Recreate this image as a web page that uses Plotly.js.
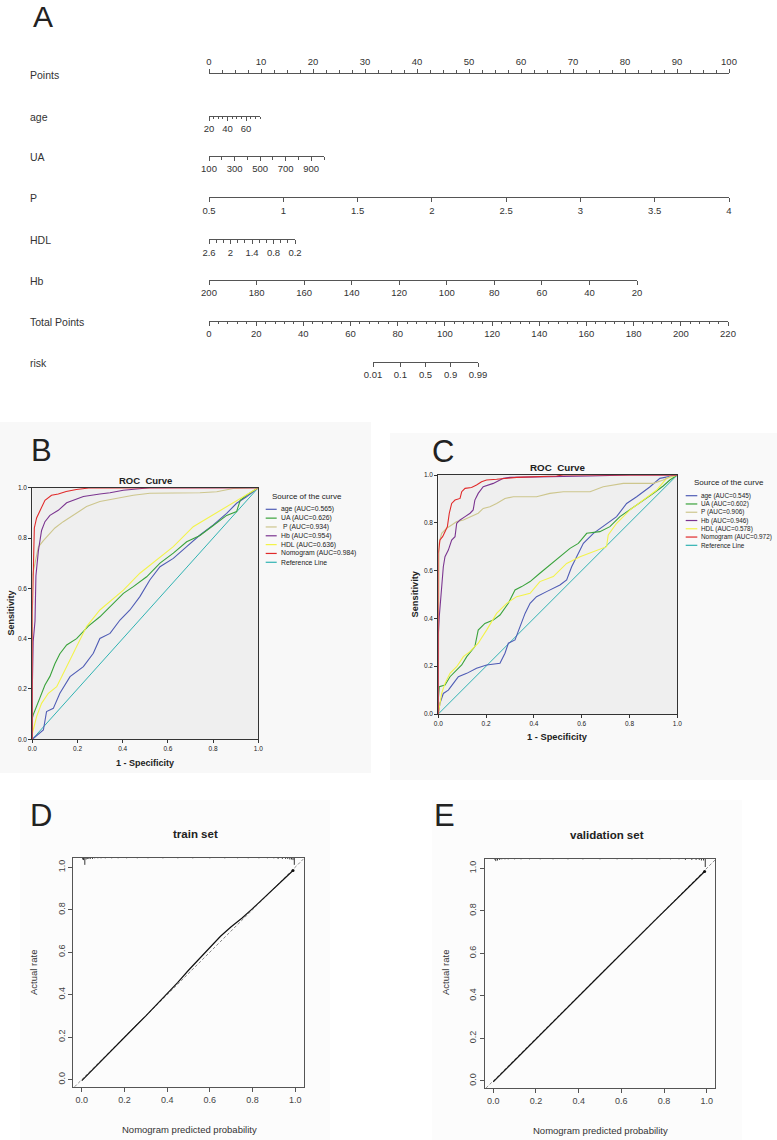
<!DOCTYPE html>
<html>
<head>
<meta charset="utf-8">
<script src="https://cdn.plot.ly/plotly-3.0.1.min.js"></script>
<style>
  html, body { margin: 0; padding: 0; background: #ffffff; }
  #fig { width: 777px; height: 1140px; }
</style>
</head>
<body>
<div id="fig"></div>
<script>
// ---------- Nomogram scales (A) ----------
const pointsRange = [0, 100];
const pointsTicks = [0, 10, 20, 30, 40, 50, 60, 70, 80, 90, 100];
const ageRange = [20, 75];
const ageTicks = [20, 40, 60];
const uaRange = [100, 1000];
const uaTicks = [100, 300, 500, 700, 900];
const pRange = [0.5, 4];
const pTicks = [0.5, 1, 1.5, 2, 2.5, 3, 3.5, 4];
const hdlRange = [2.6, 0.2];
const hdlTicks = [2.6, 2, 1.4, 0.8, 0.2];
const hbRange = [200, 20];
const hbTicks = [200, 180, 160, 140, 120, 100, 80, 60, 40, 20];
const totalRange = [0, 220];
const totalTicks = [0, 20, 40, 60, 80, 100, 120, 140, 160, 180, 200, 220];
const riskTicks = [0.01, 0.1, 0.5, 0.9, 0.99];

// ---------- ROC curves, training set (B) ----------
const curveNames = ['age', 'UA', 'P', 'Hb', 'HDL', 'Nomogram'];
const aucB = [0.565, 0.626, 0.934, 0.954, 0.636, 0.984];
const aucC = [0.545, 0.602, 0.906, 0.946, 0.578, 0.972];

const bAgeX = [0, 0.049, 0.063, 0.093, 0.122, 0.167, 0.226, 0.270, 0.299, 0.344, 0.388, 0.432, 0.476, 0.52, 0.565, 0.624, 0.683, 0.742, 0.801, 0.86, 0.904, 0.948, 1];
const bAgeY = [0, 0.037, 0.110, 0.123, 0.183, 0.249, 0.289, 0.342, 0.401, 0.421, 0.474, 0.514, 0.567, 0.633, 0.686, 0.719, 0.766, 0.812, 0.852, 0.898, 0.938, 0.964, 1];
const bUaX = [0, 0, 0.004, 0.019, 0.034, 0.056, 0.078, 0.1, 0.122, 0.152, 0.196, 0.248, 0.299, 0.358, 0.403, 0.447, 0.506, 0.565, 0.624, 0.683, 0.742, 0.801, 0.86, 0.904, 0.92, 0.948, 1];
const bUaY = [0, 0.083, 0.097, 0.13, 0.17, 0.216, 0.25, 0.30, 0.34, 0.375, 0.40, 0.45, 0.487, 0.54, 0.58, 0.607, 0.646, 0.70, 0.74, 0.785, 0.81, 0.85, 0.89, 0.905, 0.95, 0.97, 1];
const bPX = [0, 0, 0.012, 0.027, 0.049, 0.071, 0.1, 0.137, 0.181, 0.24, 0.299, 0.373, 0.447, 0.52, 0.742, 0.816, 0.889, 1];
const bPY = [0, 0.65, 0.70, 0.765, 0.79, 0.81, 0.84, 0.865, 0.89, 0.925, 0.945, 0.958, 0.97, 0.978, 0.98, 0.984, 0.997, 1];
const bHbX = [0, 0, 0.004, 0.012, 0.016, 0.027, 0.041, 0.056, 0.078, 0.115, 0.152, 0.181, 0.226, 0.299, 0.344, 0.403, 0.477, 0.52, 1];
const bHbY = [0, 0.2, 0.39, 0.47, 0.65, 0.75, 0.83, 0.865, 0.89, 0.91, 0.94, 0.95, 0.965, 0.975, 0.98, 0.99, 0.995, 1, 1];
const bHdlX = [0, 0, 0.004, 0.019, 0.041, 0.071, 0.108, 0.152, 0.196, 0.240, 0.299, 0.358, 0.403, 0.476, 0.55, 0.624, 0.712, 0.786, 0.86, 0.934, 1];
const bHdlY = [0, 0.02, 0.037, 0.09, 0.143, 0.183, 0.209, 0.289, 0.368, 0.448, 0.514, 0.56, 0.593, 0.66, 0.713, 0.766, 0.845, 0.885, 0.925, 0.964, 1];
const bNomoX = [0, 0, 0.005, 0.009, 0.019, 0.034, 0.056, 0.085, 0.115, 0.15, 0.195, 0.25, 0.45, 1];
const bNomoY = [0, 0.5, 0.69, 0.84, 0.88, 0.91, 0.95, 0.97, 0.975, 0.985, 0.993, 0.999, 1, 1];

// ---------- ROC curves, validation set (C) ----------
const cAgeX = [0, 0.007, 0.021, 0.042, 0.063, 0.084, 0.119, 0.16, 0.202, 0.258, 0.279, 0.293, 0.321, 0.342, 0.363, 0.384, 0.411, 0.453, 0.509, 0.537, 0.558, 0.579, 0.607, 0.649, 0.69, 0.746, 0.788, 0.83, 0.886, 0.927, 1];
const cAgeY = [0, 0.045, 0.086, 0.1, 0.128, 0.156, 0.17, 0.191, 0.205, 0.212, 0.254, 0.296, 0.31, 0.365, 0.421, 0.463, 0.491, 0.512, 0.54, 0.561, 0.616, 0.658, 0.714, 0.756, 0.784, 0.826, 0.881, 0.909, 0.951, 0.986, 1];
const cUaX = [0, 0, 0.004, 0.028, 0.049, 0.077, 0.098, 0.119, 0.153, 0.167, 0.195, 0.230, 0.258, 0.293, 0.321, 0.349, 0.384, 0.425, 0.467, 0.509, 0.551, 0.586, 0.621, 0.676, 0.718, 0.76, 0.802, 0.858, 0.9, 0.941, 0.969, 1];
const cUaY = [0, 0.06, 0.114, 0.121, 0.156, 0.184, 0.205, 0.24, 0.282, 0.351, 0.379, 0.393, 0.414, 0.463, 0.519, 0.533, 0.554, 0.589, 0.623, 0.658, 0.693, 0.714, 0.756, 0.763, 0.784, 0.826, 0.854, 0.895, 0.923, 0.954, 0.979, 1];
const cPX = [0, 0, 0.003, 0.014, 0.035, 0.056, 0.077, 0.105, 0.133, 0.167, 0.188, 0.216, 0.244, 0.279, 0.314, 0.411, 0.467, 0.523, 0.635, 0.69, 0.774, 0.9, 0.941, 0.969, 1];
const cPY = [0, 0.589, 0.714, 0.756, 0.777, 0.791, 0.805, 0.812, 0.826, 0.84, 0.86, 0.867, 0.881, 0.902, 0.909, 0.909, 0.923, 0.93, 0.93, 0.951, 0.965, 0.965, 0.979, 0.993, 1];
const cHbX = [0, 0, 0.004, 0.01, 0.015, 0.021, 0.028, 0.042, 0.056, 0.07, 0.077, 0.091, 0.112, 0.133, 0.146, 0.153, 0.167, 0.188, 0.23, 0.272, 0.3, 0.411, 0.634, 0.802, 1];
const cHbY = [0, 0.33, 0.407, 0.477, 0.533, 0.616, 0.658, 0.686, 0.728, 0.742, 0.798, 0.812, 0.826, 0.84, 0.854, 0.895, 0.923, 0.951, 0.965, 0.986, 0.99, 0.993, 0.996, 1, 1];
const cHdlX = [0, 0.01, 0.014, 0.028, 0.049, 0.077, 0.105, 0.132, 0.167, 0.202, 0.244, 0.286, 0.328, 0.384, 0.425, 0.481, 0.537, 0.593, 0.662, 0.704, 0.711, 0.746, 0.802, 0.858, 0.914, 0.955, 1];
const cHdlY = [0, 0.05, 0.086, 0.128, 0.17, 0.198, 0.24, 0.261, 0.296, 0.351, 0.421, 0.463, 0.491, 0.505, 0.554, 0.575, 0.63, 0.658, 0.686, 0.7, 0.749, 0.798, 0.854, 0.895, 0.937, 0.986, 1];
const cNomoX = [0, 0, 0.007, 0.018, 0.028, 0.038, 0.046, 0.056, 0.07, 0.091, 0.098, 0.112, 0.139, 0.16, 0.181, 0.202, 0.244, 0.328, 0.495, 0.523, 1];
const cNomoY = [0, 0.672, 0.728, 0.742, 0.763, 0.784, 0.84, 0.881, 0.895, 0.902, 0.93, 0.944, 0.948, 0.958, 0.972, 0.979, 0.982, 0.99, 0.996, 1, 1];

// ---------- Calibration curves (D, E) ----------
const calDX = [0.0, 0.05, 0.1, 0.15, 0.2, 0.25, 0.3, 0.35, 0.4, 0.45, 0.5, 0.55, 0.6, 0.65, 0.7, 0.75, 0.8, 0.85, 0.9, 0.95, 0.99];
const calDY = [-0.005, 0.045, 0.098, 0.148, 0.198, 0.25, 0.3, 0.352, 0.405, 0.458, 0.515, 0.57, 0.625, 0.675, 0.72, 0.76, 0.805, 0.852, 0.9, 0.945, 0.985];
const calEX = [0.0, 0.25, 0.5, 0.75, 0.99];
const calEY = [-0.005, 0.248, 0.498, 0.748, 0.985];
// distribution of predicted probabilities (rug at the top of each panel)
const rugDX = [0.004, 0.008, 0.014, 0.02, 0.026, 0.033, 0.04, 0.05, 0.06, 0.075, 0.09, 0.11, 0.14, 0.17, 0.21, 0.26, 0.31, 0.38, 0.45, 0.52, 0.6, 0.67, 0.73, 0.78, 0.83, 0.87, 0.9, 0.92, 0.94, 0.955, 0.965, 0.975, 0.983, 0.99, 0.996];
const rugDN = [3, 4, 12, 3, 2, 2, 2, 2, 1, 1, 1, 1, 1, 1, 1, 1, 1, 1, 1, 1, 1, 1, 1, 1, 1, 1, 1, 2, 2, 2, 2, 3, 3, 4, 12];
const rugEX = [0.008, 0.012, 0.02, 0.03, 0.04, 0.055, 0.07, 0.1, 0.13, 0.17, 0.22, 0.28, 0.35, 0.42, 0.5, 0.58, 0.65, 0.72, 0.78, 0.83, 0.87, 0.9, 0.93, 0.95, 0.965, 0.975, 0.985, 0.993];
const rugEN = [2, 4, 3, 2, 1, 1, 1, 1, 1, 1, 1, 1, 1, 1, 1, 1, 1, 1, 1, 1, 1, 2, 2, 2, 2, 3, 3, 14];

// ---------- helpers ----------
const W = 777, H = 1140;
const fx = p => p / W;
const fy = p => 1 - p / H;
const NARROW = '"Liberation Sans Narrow", "Arial Narrow", "Liberation Sans", Arial, sans-serif';
const SANS = '"Liberation Sans", Arial, Helvetica, sans-serif';
const logit = p => Math.log(p / (1 - p));

const layout = {
  width: W, height: H,
  margin: { l: 0, r: 0, t: 0, b: 0 },
  paper_bgcolor: '#ffffff',
  plot_bgcolor: 'rgba(0,0,0,0)',
  showlegend: false,
  shapes: [], annotations: []
};
const traces = [];

function note(x, y, text, size, opts) {
  layout.annotations.push(Object.assign({
    xref: 'paper', yref: 'paper', x: fx(x), y: fy(y), text: text,
    showarrow: false, xanchor: 'center', yanchor: 'middle',
    font: { family: SANS, size: size, color: '#222' }
  }, opts || {}));
}
function paperRect(x0, y0, x1, y1, color) {
  layout.shapes.push({ type: 'rect', xref: 'paper', yref: 'paper', layer: 'below',
    x0: fx(x0), x1: fx(x1), y0: fy(y1), y1: fy(y0), fillcolor: color, line: { width: 0 } });
}

// panel backdrops
paperRect(0, 422, 371, 773, '#f8f8f8');
paperRect(390, 433, 777, 780, '#f9f9f9');
paperRect(20, 800, 330, 1140, '#fcfcfc');
paperRect(432, 800, 742, 1140, '#fcfcfc');

// ---------- A: nomogram ----------
const rows = [
  { label: 'Points', vals: pointsTicks, range: pointsRange, side: 'top', minor: 2.5, y: 73.7, x0: 209, x1: 729 },
  { label: 'age', vals: ageTicks, range: ageRange, minor: 5, y: 115.7, x0: 209, x1: 260 },
  { label: 'UA', vals: uaTicks, range: uaRange, minor: 100, y: 156, x0: 209, x1: 324 },
  { label: 'P', vals: pTicks, range: pRange, y: 197.3, x0: 209, x1: 729 },
  { label: 'HDL', vals: hdlTicks, range: hdlRange, minor: 0.2, y: 239.3, x0: 209, x1: 295 },
  { label: 'Hb', vals: hbTicks, range: hbRange, y: 280, x0: 209, x1: 637 },
  { label: 'Total Points', vals: totalTicks, range: totalRange, minor: 4, y: 320.7, x0: 209, x1: 728 },
  { label: 'risk', vals: riskTicks.map(logit), text: riskTicks.map(String),
    range: [logit(riskTicks[0]), logit(riskTicks[riskTicks.length - 1])], y: 361.7, x0: 373, x1: 478 }
];

rows.forEach((r, i) => {
  const sx = i === 0 ? '' : String(i + 1);
  const yl = fy(r.y);
  const dy = 0.01;
  const xa = {
    domain: [fx(r.x0), fx(r.x1)], range: r.range, anchor: 'y' + sx,
    side: r.side || 'bottom',
    showline: true, linecolor: '#555', linewidth: 1,
    ticks: 'outside', ticklen: 4, tickwidth: 1, tickcolor: '#555',
    tickmode: 'array', tickvals: r.vals, ticktext: r.text || r.vals.map(String),
    tickfont: { family: NARROW, size: 9.5, color: '#333' },
    showgrid: false, zeroline: false, fixedrange: true
  };
  if (r.minor) {
    xa.minor = { tickmode: 'linear', tick0: 0, dtick: r.minor, ticks: 'outside',
      ticklen: 2.5, tickwidth: 1, tickcolor: '#555', showgrid: false };
  }
  layout['xaxis' + sx] = xa;
  layout['yaxis' + sx] = { domain: r.side === 'top' ? [yl - dy, yl] : [yl, yl + dy],
    range: [0, 1], visible: false, fixedrange: true };
  traces.push({ type: 'scatter', mode: 'markers', x: r.vals, y: r.vals.map(() => 0.5),
    xaxis: 'x' + sx, yaxis: 'y' + sx, marker: { opacity: 0 }, hoverinfo: 'skip' });
  note(28, r.y + 1, r.label, 10.5, { xanchor: 'left', font: { family: NARROW, size: 10.5, color: '#333' } });
});
note(43, 16, 'A', 30, { font: { family: SANS, size: 30, color: '#222' } });

// ---------- B, C: ROC panels ----------
const rocColors = ['#4f5cb5', '#3aa33c', '#cdc68d', '#7b3590', '#f3f34a', '#e02a2a'];
const refColor = '#2fb2b2';

function rocPanel(k, box, data, aucs, opt) {
  const sx = String(k);
  const common = {
    range: [0, 1], showline: true, mirror: true, linecolor: '#333', linewidth: 1,
    ticks: 'outside', ticklen: 3, tickcolor: '#333', tickmode: 'linear', tick0: 0, dtick: 0.2,
    tickformat: '.1f', tickfont: { family: SANS, size: 6.5, color: '#222' },
    showgrid: false, zeroline: false, fixedrange: true
  };
  layout['xaxis' + sx] = Object.assign({}, common, { domain: [fx(box.x0), fx(box.x1)], anchor: 'y' + sx });
  layout['yaxis' + sx] = Object.assign({}, common, { domain: [fy(box.y1), fy(box.y0)], anchor: 'x' + sx });
  layout.shapes.push({ type: 'rect', xref: 'x' + sx, yref: 'y' + sx, layer: 'below',
    x0: 0, x1: 1, y0: 0, y1: 1, fillcolor: '#efefef', line: { width: 0 } });

  traces.push({ type: 'scatter', mode: 'lines', x: [0, 1], y: [0, 1], xaxis: 'x' + sx, yaxis: 'y' + sx,
    line: { color: refColor, width: 1 }, hoverinfo: 'skip' });
  [0, 1, 4, 2, 3, 5].forEach(j => {
    traces.push({ type: 'scatter', mode: 'lines', x: data[j][0], y: data[j][1],
      xaxis: 'x' + sx, yaxis: 'y' + sx, line: { color: rocColors[j], width: 1.1 }, hoverinfo: 'skip' });
  });

  note((box.x0 + box.x1) / 2, box.y0 - 7.5, '<b>ROC\u00a0\u00a0Curve</b>', opt.titleSize);
  note((box.x0 + box.x1) / 2, opt.xTitleY, '<b>1 - Specificity</b>', opt.axSize);
  note(opt.yTitleX, (box.y0 + box.y1) / 2, '<b>Sensitivity</b>', opt.axSize, { textangle: -90 });

  // curve key
  note(opt.legTitleX, opt.legTitleY, 'Source of the curve', 8);
  const labels = curveNames.map((n, j) => (opt.padP && n === 'P' ? '\u00a0P' : n) + ' (AUC=' + aucs[j].toFixed(3) + ')');
  labels.push('Reference Line');
  const cols = rocColors.concat([refColor]);
  labels.forEach((t, j) => {
    const yy = opt.legY0 + j * opt.legStep;
    layout.shapes.push({ type: 'line', xref: 'paper', yref: 'paper',
      x0: fx(opt.legX0), x1: fx(opt.legX1), y0: fy(yy), y1: fy(yy), line: { color: cols[j], width: 1.2 } });
    note(opt.legX1 + 2, yy, t, opt.legSize, { xanchor: 'left' });
  });
}

rocPanel(9, { x0: 32.3, x1: 258.3, y0: 487.7, y1: 739.3 },
  [[bAgeX, bAgeY], [bUaX, bUaY], [bPX, bPY], [bHbX, bHbY], [bHdlX, bHdlY], [bNomoX, bNomoY]], aucB,
  { titleSize: 9.5, axSize: 9, xTitleY: 763, yTitleX: 10, legTitleX: 307, legTitleY: 496.7,
    legY0: 509.3, legStep: 8.83, legX0: 265.7, legX1: 276.7, padP: true, legSize: 6.8 });
rocPanel(10, { x0: 438.3, x1: 677.3, y0: 475, y1: 714 },
  [[cAgeX, cAgeY], [cUaX, cUaY], [cPX, cPY], [cHbX, cHbY], [cHdlX, cHdlY], [cNomoX, cNomoY]], aucC,
  { titleSize: 9.8, axSize: 9.3, xTitleY: 736.7, yTitleX: 414, legTitleX: 729, legTitleY: 482.7,
    legY0: 495.7, legStep: 8.27, legX0: 685.7, legX1: 697.3, padP: false, legSize: 6.4 });
note(41.5, 450.5, 'B', 31);
note(443, 451, 'C', 31);

// ---------- D, E: calibration panels ----------
function calPanel(k, box, cx, cy, rx, rn, title, tx, ty, opt) {
  const sx = String(k);
  const yr = [-0.035, 1.045];
  const base = {
    showline: true, mirror: true, linecolor: '#555', linewidth: 1,
    ticks: 'outside', ticklen: 4, tickcolor: '#555', tickmode: 'linear', tick0: 0, dtick: 0.2,
    tickformat: '.1f', tickfont: { family: SANS, size: 9, color: '#444' },
    showgrid: false, zeroline: false, fixedrange: true
  };
  layout['xaxis' + sx] = Object.assign({}, base, { domain: [fx(box.x0), fx(box.x1)], range: [-0.04, 1.04], anchor: 'y' + sx });
  layout['yaxis' + sx] = Object.assign({}, base, { domain: [fy(box.y1), fy(box.y0)], range: yr, anchor: 'x' + sx, tickangle: -90 });

  traces.push({ type: 'scatter', mode: 'lines', x: [-0.1, 1.1], y: [-0.1, 1.1], xaxis: 'x' + sx, yaxis: 'y' + sx,
    line: { color: '#8a8a8a', width: 1, dash: '3px,2px' }, hoverinfo: 'skip' });
  traces.push({ type: 'scatter', mode: 'lines', x: cx, y: cy, xaxis: 'x' + sx, yaxis: 'y' + sx,
    line: { color: '#111', width: 1.2 }, hoverinfo: 'skip' });
  traces.push({ type: 'scatter', mode: 'markers', x: [cx[cx.length - 1]], y: [cy[cy.length - 1]],
    xaxis: 'x' + sx, yaxis: 'y' + sx, marker: { color: '#111', size: 3 }, hoverinfo: 'skip' });

  // rug of predicted probabilities, hanging from the top edge
  const unit = 0.0028;
  const rxs = [], rys = [];
  rx.forEach((v, j) => { rxs.push(v, v, null); rys.push(yr[1], yr[1] - rn[j] * unit, null); });
  traces.push({ type: 'scatter', mode: 'lines', x: rxs, y: rys, xaxis: 'x' + sx, yaxis: 'y' + sx,
    line: { color: '#333', width: 1 }, connectgaps: false, hoverinfo: 'skip', cliponaxis: false });

  note(tx, ty, '<b>' + title + '</b>', 11.5);
  note((box.x0 + box.x1) / 2 - opt.xtShift, opt.xTitleY, 'Nomogram predicted probability', 9.5, { font: { family: SANS, size: 9.5, color: '#333' } });
  note(opt.yTitleX, 973, 'Actual rate', 9.5, { textangle: -90, font: { family: SANS, size: 9.5, color: '#333' } });
}

calPanel(11, { x0: 73.3, x1: 303.7, y0: 857.7, y1: 1087 }, calDX, calDY, rugDX, rugDN,
  'train set', 195.7, 834, { xTitleY: 1129, yTitleX: 33, xtShift: -0.5 });
calPanel(12, { x0: 484.7, x1: 715.3, y0: 858.7, y1: 1088.3 }, calEX, calEY, rugEX, rugEN,
  'validation set', 606.7, 835.3, { xTitleY: 1130, yTitleX: 445, xtShift: 0 });
note(40.5, 815.5, 'D', 31);
note(444.5, 815.5, 'E', 31);

Plotly.newPlot('fig', traces, layout, { staticPlot: true, displayModeBar: false });
</script>
</body>
</html>
